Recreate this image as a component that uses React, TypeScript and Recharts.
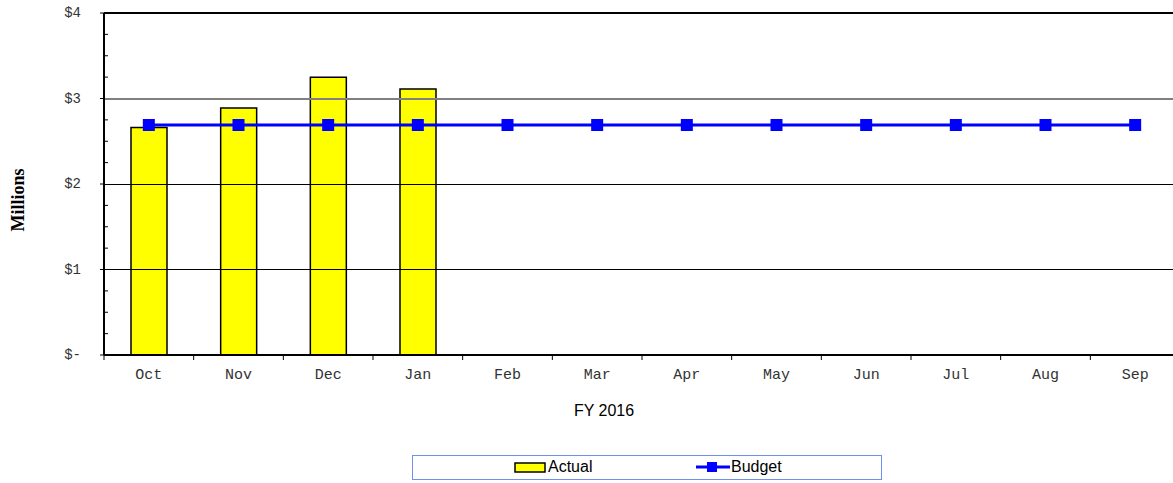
import React from 'react';
import {
  ComposedChart,
  Bar,
  Line,
  XAxis,
  YAxis,
  ReferenceLine,
} from 'recharts';

// months of FY 2016, values in $ millions
const months = ['Oct', 'Nov', 'Dec', 'Jan', 'Feb', 'Mar', 'Apr', 'May', 'Jun', 'Jul', 'Aug', 'Sep'];
const actual = [2.66, 2.89, 3.25, 3.11, null, null, null, null, null, null, null, null];
const budget = [2.69, 2.69, 2.69, 2.69, 2.69, 2.69, 2.69, 2.69, 2.69, 2.69, 2.69, 2.69];
const yTicks = [0, 0.25, 0.5, 0.75, 1, 1.25, 1.5, 1.75, 2, 2.25, 2.5, 2.75, 3, 3.25, 3.5, 3.75, 4];
const gridValues = [1, 2, 3];

const chartData = months.map((m, i) => ({ month: m, actual: actual[i], budget: budget[i] }));

const CHART_W = 1180;
const PLOT_LEFT = 104;
const BAND = (CHART_W - PLOT_LEFT) / months.length;

const mono = '"Liberation Mono", "Courier New", monospace';
const sans = '"Liberation Sans", Arial, sans-serif';

const fmtMoney = (v: number) => (v === 0 ? '$-' : `$${v}`);

// y tick: label + outward tick on whole dollars, short inward tick on quarters
const YTick = (props: any) => {
  const { x, y, payload } = props;
  const axisX = x + 23;
  const whole = Number.isInteger(payload.value);
  if (!whole) {
    return <line x1={axisX} x2={axisX + 4} y1={y} y2={y} stroke="#000" strokeWidth={1} />;
  }
  return (
    <g>
      <line x1={axisX - 4} x2={axisX} y1={y} y2={y} stroke="#000" strokeWidth={1} />
      <text x={x} y={y + 4} textAnchor="end" fontFamily={mono} fontSize={14} fill="#333">
        {fmtMoney(payload.value)}
      </text>
    </g>
  );
};

// x tick: month label at band centre, tick mark at band's left edge
const XTick = (props: any) => {
  const { x, y, payload } = props;
  const axisY = y - 15;
  const edge = x - (payload.offset ?? BAND / 2);
  return (
    <g>
      <line x1={edge} x2={edge} y1={axisY} y2={axisY + 5} stroke="#000" strokeWidth={1} />
      <text x={x} y={y + 9} textAnchor="middle" fontFamily={mono} fontSize={15} fill="#333">
        {payload.value}
      </text>
    </g>
  );
};

const SquareDot = (props: any) => {
  const { cx, cy } = props;
  if (cx == null || cy == null) return null;
  return <rect x={cx - 6} y={cy - 6} width={12} height={12} fill="#0000FF" />;
};

export default function App() {
  return (
    <div style={{ position: 'absolute', left: 0, top: 0, width: 1173, height: 483, overflow: 'hidden', background: '#fff' }}>
      <ComposedChart
        width={CHART_W}
        height={483}
        data={chartData}
        margin={{ top: 13, right: 0, bottom: 98, left: 0 }}
        barCategoryGap="30%"
      >
        <XAxis
          dataKey="month"
          height={30}
          tickSize={5}
          tickMargin={10}
          tickLine={false}
          axisLine={{ stroke: '#000', strokeWidth: 2 }}
          tick={<XTick />}
          interval={0}
        />
        <YAxis
          width={PLOT_LEFT}
          domain={[0, 4]}
          ticks={yTicks}
          interval={0}
          tickSize={4}
          tickMargin={19}
          tickLine={false}
          axisLine={{ stroke: '#000', strokeWidth: 2 }}
          tick={<YTick />}
        />
        {gridValues.map((v) => (
          <ReferenceLine
            key={v}
            y={v}
            stroke={v === 3 ? '#808080' : '#000'}
            strokeWidth={v === 3 ? 2 : 1}
            shapeRendering="crispEdges"
          />
        ))}
        <ReferenceLine y={4} stroke="#000" strokeWidth={2} />
        <Bar dataKey="actual" fill="#FFFF00" stroke="#000" strokeWidth={1.5} barSize={36} isAnimationActive={false} />
        <Line
          dataKey="budget"
          stroke="#0000FF"
          strokeWidth={3}
          dot={<SquareDot />}
          activeDot={false}
          isAnimationActive={false}
        />
      </ComposedChart>

      <div
        style={{
          position: 'absolute',
          left: 18,
          top: 200,
          transform: 'translate(-50%, -50%) rotate(-90deg)',
          fontFamily: '"Liberation Serif", "Times New Roman", serif',
          fontWeight: 'bold',
          fontSize: 18,
          whiteSpace: 'nowrap',
        }}
      >
        Millions
      </div>

      <div
        style={{
          position: 'absolute',
          left: 604,
          top: 411,
          transform: 'translate(-50%, -50%)',
          fontFamily: sans,
          fontSize: 16,
          whiteSpace: 'nowrap',
        }}
      >
        FY 2016
      </div>

      <div
        style={{
          position: 'absolute',
          left: 412,
          top: 455,
          width: 468,
          height: 23,
          border: '1px solid #7090f0',
          fontFamily: sans,
          fontSize: 16,
        }}
      >
        <svg width={32} height={12} style={{ position: 'absolute', left: 101, top: 6 }}>
          <rect x={1} y={1} width={30} height={9} fill="#FFFF00" stroke="#000" strokeWidth={1.5} />
        </svg>
        <span style={{ position: 'absolute', left: 135, top: 2 }}>Actual</span>
        <svg width={34} height={12} style={{ position: 'absolute', left: 283, top: 5 }}>
          <line x1={0} x2={34} y1={6} y2={6} stroke="#0000FF" strokeWidth={3} />
          <rect x={11} y={1} width={10} height={10} fill="#0000FF" />
        </svg>
        <span style={{ position: 'absolute', left: 318, top: 2 }}>Budget</span>
      </div>
    </div>
  );
}
